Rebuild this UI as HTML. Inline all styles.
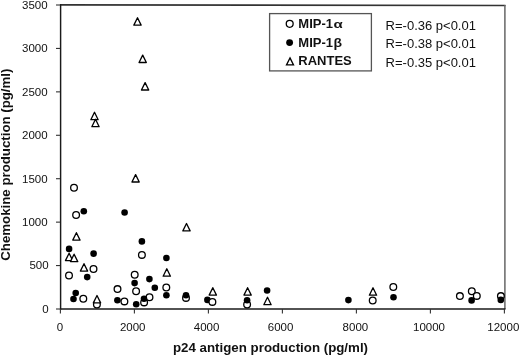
<!DOCTYPE html>
<html><head><meta charset="utf-8"><style>
html,body{margin:0;padding:0;background:#fff;overflow:hidden;}
svg{display:block;will-change:transform;}
text{font-family:"Liberation Sans",sans-serif;}
</style></head><body>
<svg width="520" height="357" viewBox="0 0 520 357">
<rect width="520" height="357" fill="#fff"/>
<line x1="60" y1="4.9" x2="505.5" y2="5.5" stroke="#333" stroke-width="1.6"/>
<line x1="504.9" y1="5" x2="504.9" y2="309" stroke="#666" stroke-width="1.5"/>
<g stroke="#1a1a1a" stroke-width="1.6" fill="none">
<line x1="60.6" y1="4.2" x2="60.6" y2="309.8" stroke-width="1.45"/>
<line x1="60" y1="309" x2="505.5" y2="309"/>
</g>
<g stroke="#333" stroke-width="1.1">
<line x1="56" y1="309.00" x2="60" y2="309.00"/>
<line x1="56" y1="265.57" x2="60" y2="265.57"/>
<line x1="56" y1="222.14" x2="60" y2="222.14"/>
<line x1="56" y1="178.71" x2="60" y2="178.71"/>
<line x1="56" y1="135.29" x2="60" y2="135.29"/>
<line x1="56" y1="91.86" x2="60" y2="91.86"/>
<line x1="56" y1="48.43" x2="60" y2="48.43"/>
<line x1="56" y1="5.00" x2="60" y2="5.00"/>
<line x1="60.40" y1="309" x2="60.40" y2="313.6"/>
<line x1="134.40" y1="309" x2="134.40" y2="313.6"/>
<line x1="208.40" y1="309" x2="208.40" y2="313.6"/>
<line x1="282.40" y1="309" x2="282.40" y2="313.6"/>
<line x1="356.40" y1="309" x2="356.40" y2="313.6"/>
<line x1="430.40" y1="309" x2="430.40" y2="313.6"/>
<line x1="504.40" y1="309" x2="504.40" y2="313.6"/>
</g>
<g font-size="11.5" fill="#111">
<text x="48.6" y="312.90" text-anchor="end">0</text>
<text x="48.6" y="269.47" text-anchor="end">500</text>
<text x="47.6" y="226.04" text-anchor="end">1000</text>
<text x="47.6" y="182.61" text-anchor="end">1500</text>
<text x="47.6" y="139.19" text-anchor="end">2000</text>
<text x="47.6" y="95.76" text-anchor="end">2500</text>
<text x="47.6" y="52.33" text-anchor="end">3000</text>
<text x="47.6" y="8.90" text-anchor="end">3500</text>
</g>
<g font-size="11.5" fill="#111">
<text x="60.00" y="330.7" text-anchor="middle">0</text>
<text x="132.70" y="330.7" text-anchor="middle">2000</text>
<text x="206.60" y="330.7" text-anchor="middle">4000</text>
<text x="280.60" y="330.7" text-anchor="middle">6000</text>
<text x="355.40" y="330.7" text-anchor="middle">8000</text>
<text x="429.00" y="330.7" text-anchor="middle">10000</text>
<text x="503.30" y="330.7" text-anchor="middle">12000</text>
</g>
<text x="173.0" y="352.3" font-size="13.3" font-weight="bold" fill="#111">p24 antigen production (pg/ml)</text>
<text transform="translate(10.0,260.7) rotate(-90)" font-size="13.25" font-weight="bold" fill="#111">Chemokine production (pg/ml)</text>
<rect x="269.6" y="13.6" width="101.8" height="57.3" fill="none" stroke="#555" stroke-width="1.3"/>
<g font-size="13.0" font-weight="bold" fill="#111">
<text x="298.3" y="28.0">MIP-1</text>
<text transform="translate(333.4,28.3) scale(1.16,0.82)">α</text>
<text x="298.3" y="47.4">MIP-1</text>
<text transform="translate(333.4,47.3) scale(1.08,1.03)">β</text>
<text x="298.3" y="64.5">RANTES</text>
</g>
<circle cx="289.7" cy="23.85" r="3.45" fill="#fff" stroke="#000" stroke-width="1.3"/>
<circle cx="289.6" cy="42.6" r="3.45" fill="#000"/>
<path d="M290 57.9L293.5 64.9L286.5 64.9Z" fill="none" stroke="#000" stroke-width="1.3"/>
<g font-size="13.0" fill="#111">
<text x="385.6" y="30.4">R=-0.36 p&lt;0.01</text>
<text x="385.6" y="48.2">R=-0.38 p&lt;0.01</text>
<text x="385.6" y="66.5">R=-0.35 p&lt;0.01</text>
</g>
<g fill="#fff" stroke="#000" stroke-width="1.3">
<circle cx="74.0" cy="187.8" r="3.35"/>
<circle cx="76.1" cy="215.0" r="3.35"/>
<circle cx="93.5" cy="269.0" r="3.35"/>
<circle cx="69.0" cy="275.5" r="3.35"/>
<circle cx="83.3" cy="298.8" r="3.35"/>
<circle cx="96.9" cy="304.5" r="3.35"/>
<circle cx="117.5" cy="289.1" r="3.35"/>
<circle cx="134.7" cy="274.8" r="3.35"/>
<circle cx="136.1" cy="291.2" r="3.35"/>
<circle cx="144.1" cy="302.4" r="3.35"/>
<circle cx="149.5" cy="297.2" r="3.35"/>
<circle cx="166.3" cy="287.5" r="3.35"/>
<circle cx="141.9" cy="254.9" r="3.35"/>
<circle cx="186.0" cy="297.9" r="3.35"/>
<circle cx="247.1" cy="304.5" r="3.35"/>
<circle cx="372.7" cy="300.5" r="3.35"/>
<circle cx="393.3" cy="287.0" r="3.35"/>
<circle cx="459.9" cy="296.1" r="3.35"/>
<circle cx="471.8" cy="291.3" r="3.35"/>
<circle cx="500.9" cy="296.1" r="3.35"/>
</g>
<g fill="#000">
<circle cx="69.1" cy="248.9" r="3.3"/>
<circle cx="93.6" cy="253.6" r="3.3"/>
<circle cx="87.2" cy="277.1" r="3.3"/>
<circle cx="75.7" cy="293.0" r="3.3"/>
<circle cx="73.5" cy="299.0" r="3.3"/>
<circle cx="83.8" cy="211.2" r="3.3"/>
<circle cx="117.4" cy="300.2" r="3.3"/>
<circle cx="134.6" cy="283.1" r="3.3"/>
<circle cx="136.2" cy="304.2" r="3.3"/>
<circle cx="149.4" cy="279.1" r="3.3"/>
<circle cx="154.8" cy="287.8" r="3.3"/>
<circle cx="166.4" cy="295.2" r="3.3"/>
<circle cx="144.0" cy="298.8" r="3.3"/>
<circle cx="166.4" cy="258.0" r="3.3"/>
<circle cx="141.9" cy="241.4" r="3.3"/>
<circle cx="124.6" cy="212.5" r="3.3"/>
<circle cx="186.0" cy="295.3" r="3.3"/>
<circle cx="207.4" cy="299.9" r="3.3"/>
<circle cx="247.1" cy="300.3" r="3.3"/>
<circle cx="267.1" cy="290.5" r="3.3"/>
<circle cx="348.4" cy="300.1" r="3.3"/>
<circle cx="393.5" cy="297.3" r="3.3"/>
<circle cx="471.6" cy="300.4" r="3.3"/>
<circle cx="500.8" cy="299.9" r="3.3"/>
</g>
<g fill="#fff" stroke="#000" stroke-width="1.3">
<circle cx="212.4" cy="301.9" r="3.35"/>
<circle cx="476.8" cy="295.9" r="3.35"/>
<circle cx="124.4" cy="301.4" r="3.35"/>
</g>
<g fill="#fff" stroke="#000" stroke-width="1.3" stroke-linejoin="round">
<path d="M137.50 17.75L141.15 25.15L133.85 25.15Z"/>
<path d="M142.70 55.10L146.35 62.50L139.05 62.50Z"/>
<path d="M145.10 82.60L148.75 90.00L141.45 90.00Z"/>
<path d="M94.50 112.30L98.15 119.70L90.85 119.70Z"/>
<path d="M95.50 119.30L99.15 126.70L91.85 126.70Z"/>
<path d="M135.60 174.60L139.25 182.00L131.95 182.00Z"/>
<path d="M186.50 223.50L190.15 230.90L182.85 230.90Z"/>
<path d="M76.40 232.70L80.05 240.10L72.75 240.10Z"/>
<path d="M69.10 253.20L72.75 260.60L65.45 260.60Z"/>
<path d="M74.10 254.20L77.75 261.60L70.45 261.60Z"/>
<path d="M84.00 263.70L87.65 271.10L80.35 271.10Z"/>
<path d="M97.00 295.50L100.65 302.90L93.35 302.90Z"/>
<path d="M166.80 268.80L170.45 276.20L163.15 276.20Z"/>
<path d="M212.80 287.70L216.45 295.10L209.15 295.10Z"/>
<path d="M247.60 287.70L251.25 295.10L243.95 295.10Z"/>
<path d="M267.50 297.30L271.15 304.70L263.85 304.70Z"/>
<path d="M373.00 287.80L376.65 295.20L369.35 295.20Z"/>
</g>
</svg>
</body></html>
